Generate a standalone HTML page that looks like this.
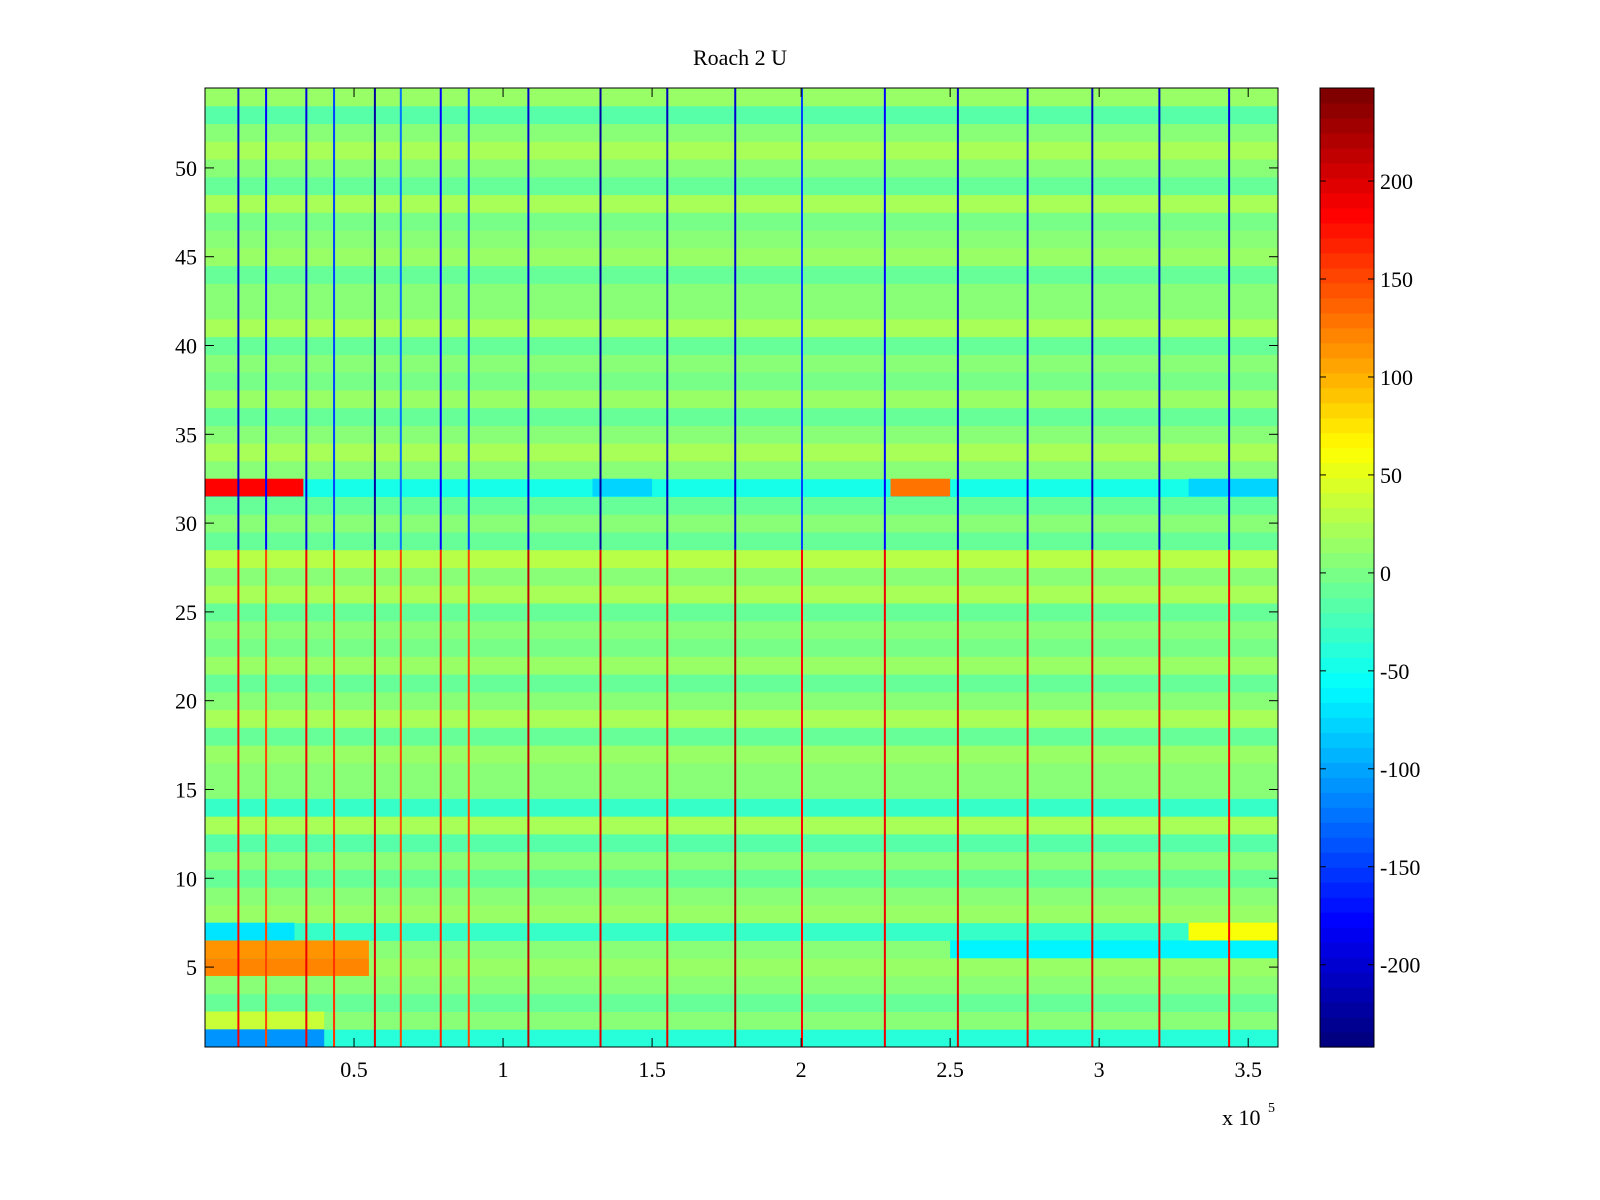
<!DOCTYPE html>
<html><head><meta charset="utf-8"><style>
html,body{margin:0;padding:0;background:#fff}
svg{display:block}
text{font-family:"Liberation Serif",serif;font-size:22px;fill:#000}
</style></head><body>
<svg id="chart" width="1600" height="1200" xmlns="http://www.w3.org/2000/svg">
<text x="740" y="65" text-anchor="middle">Roach 2 U</text>
<g id="plot"></g>
<g id="cbar"></g>
<text x="1222" y="1125">x 10</text>
<text x="1268" y="1112" style="font-size:14px">5</text>
</svg>
<script>
// Data
const rowMeans = [ -40,5,-5,10,15,10,-30,15,5,-10,10,-15,20,-30,10,5,15,-5,20,5,-10,15,0,10,-5,20,5,30,-5,10,-10,-50,10,25,5,-10,15,0,10,-5,20,5,10,-10,15,5,0,20,-10,10,25,5,-15,15 ];
const stripeX = [0.112,0.205,0.34,0.433,0.57,0.657,0.791,0.885,1.085,1.327,1.551,1.779,2.003,2.281,2.526,2.76,2.977,3.202,3.436];
const stripeTop = [-200,-180,-190,-150,-220,-120,-180,-150,-200,-220,-210,-200,-150,-180,-200,-190,-210,-200,-190];
const stripeBottom = [180,150,190,160,200,150,170,150,210,200,200,220,180,190,200,190,200,190,180];
const patches = [
  {row:32,x0:0.0,x1:0.33,v:180},{row:32,x0:2.3,x1:2.5,v:130},{row:32,x0:1.3,x1:1.5,v:-80},{row:32,x0:3.3,x1:3.6,v:-80},
  {row:6,x0:0.0,x1:0.55,v:110},{row:5,x0:0.0,x1:0.55,v:120},{row:7,x0:0.0,x1:0.3,v:-70},
  {row:1,x0:0.0,x1:0.4,v:-110},{row:2,x0:0.0,x1:0.4,v:40},{row:6,x0:2.5,x1:3.6,v:-60},{row:7,x0:3.3,x1:3.6,v:60}
];
const xTicks=[0.5,1,1.5,2,2.5,3,3.5], xTickLabels=["0.5","1","1.5","2","2.5","3","3.5"];
const yTicks=[5,10,15,20,25,30,35,40,45,50];
const cTicks=[-200,-150,-100,-50,0,50,100,150,200];

const L=205,R=1278,T=88,B=1047, XMIN=0,XMAX=3.6,YMIN=0.5,YMAX=54.5;
const CMIN=-242,CMAX=247.5;
const xs=v=>L+(v-XMIN)/(XMAX-XMIN)*(R-L);
const ys=v=>B-(v-YMIN)/(YMAX-YMIN)*(B-T);
function jet(v){let t=(v-CMIN)/(CMAX-CMIN);t=Math.max(0,Math.min(1,t));t=Math.floor(t*64)/63;
 const f=x=>Math.max(0,Math.min(1,x));
 const r=f(1.5-Math.abs(4*t-3)),g=f(1.5-Math.abs(4*t-2)),b=f(1.5-Math.abs(4*t-1));
 return `rgb(${Math.round(r*255)},${Math.round(g*255)},${Math.round(b*255)})`;}
const NS="http://www.w3.org/2000/svg";
function mk(tag,attrs,parent){const e=document.createElementNS(NS,tag);for(const k in attrs)e.setAttribute(k,attrs[k]);parent.appendChild(e);return e;}
const plot=document.getElementById('plot');
rowMeans.forEach((m,i)=>{const r=i+1;
 const e=mk('rect',{x:L,y:ys(r+0.5),width:R-L,height:ys(r-0.5)-ys(r+0.5)+0.5,fill:jet(m)},plot);
 
 });
patches.forEach(p=>{const e=mk('rect',{x:xs(p.x0),y:ys(p.row+0.5),width:xs(p.x1)-xs(p.x0),height:ys(p.row-0.5)-ys(p.row+0.5),fill:jet(p.v)},plot);
 
 });
stripeX.forEach((x,i)=>{
 const a=mk('rect',{x:xs(x)-1,y:T,width:2,height:ys(28.5)-T,fill:jet(stripeTop[i])},plot);
 
 
 const b=mk('rect',{x:xs(x)-1,y:ys(28.5),width:2,height:B-ys(28.5),fill:jet(stripeBottom[i])},plot);
 
 });
const fr=mk('rect',{x:L,y:T,width:R-L,height:B-T,fill:'none',stroke:'#000','stroke-width':1},plot);


xTicks.forEach((v,i)=>{const x=xs(v);
 mk('line',{x1:x,x2:x,y1:B,y2:B-9,stroke:'#000'},plot);mk('line',{x1:x,x2:x,y1:T,y2:T+9,stroke:'#000'},plot);
 const t=mk('text',{x:x,y:B+30,'text-anchor':'middle'},plot);t.textContent=xTickLabels[i];
 
 });
yTicks.forEach(v=>{const y=ys(v);
 mk('line',{x1:L,x2:L+9,y1:y,y2:y,stroke:'#000'},plot);mk('line',{x1:R,x2:R-9,y1:y,y2:y,stroke:'#000'},plot);
 const t=mk('text',{x:L-8,y:y+8,'text-anchor':'end'},plot);t.textContent=v;
 
 });
const cb=document.getElementById('cbar');const CL=1320,CR=1374;
const cy=v=>B-(v-CMIN)/(CMAX-CMIN)*(B-T);
for(let k=0;k<64;k++){const h=(B-T)/64;mk('rect',{x:CL,y:B-(k+1)*h,width:CR-CL,height:h+0.6,fill:jet(CMIN+(k+0.5)/64*(CMAX-CMIN))},cb);}
mk('rect',{x:CL,y:T,width:CR-CL,height:B-T,fill:'none',stroke:'#000'},cb);
cTicks.forEach(v=>{const y=cy(v);
 mk('line',{x1:CL,x2:CL+6,y1:y,y2:y,stroke:'#000'},cb);mk('line',{x1:CR,x2:CR-6,y1:y,y2:y,stroke:'#000'},cb);
 const t=mk('text',{x:CR+6,y:y+8},cb);t.textContent=v;
 
 });
</script>
</body></html>
